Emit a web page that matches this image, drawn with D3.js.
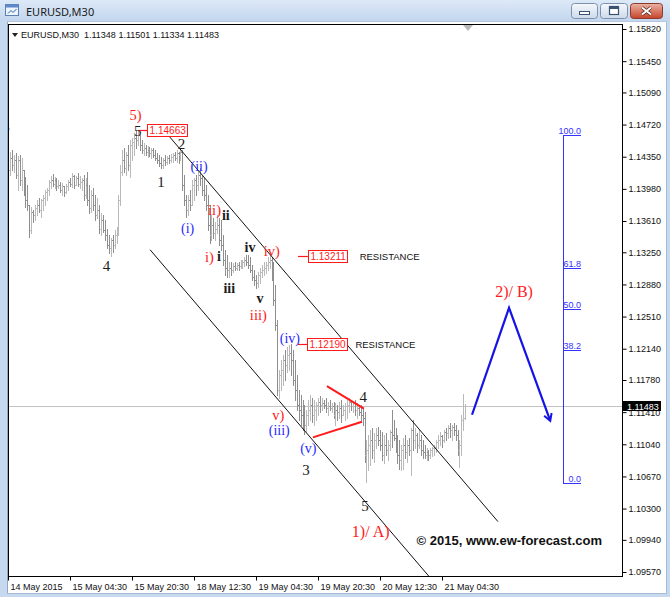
<!DOCTYPE html>
<html><head><meta charset="utf-8">
<script src="https://cdn.jsdelivr.net/npm/d3@7/dist/d3.min.js"></script>
<style>
html,body{margin:0;padding:0;background:#c6d9ef;overflow:hidden}
svg{display:block;font-family:"Liberation Sans",Arial,sans-serif}
</style></head><body>
<svg id="chart" width="670" height="597"></svg>
<script>
// ---------------- DATA ----------------
const symbol = "EURUSD,M30";
const timeTickBars = [0, 32, 64, 96, 128, 160, 192, 224];
const timeTickLabels = ["14 May 2015","15 May 04:30","15 May 20:30","18 May 12:30","19 May 04:30","19 May 20:30","20 May 12:30","21 May 04:30"];
const priceTicks = [1.15820,1.15450,1.15090,1.14720,1.14350,1.13980,1.13610,1.13250,1.12880,1.12510,1.12140,1.11780,1.11410,1.11040,1.10670,1.10300,1.09940,1.09570];

const highs = [1.1431,1.1440,1.1443,1.1437,1.1439,1.1436,1.1437,1.1433,1.1420,1.1412,
1.1402,1.1379,1.1377,1.1374,1.1379,1.1385,1.1388,1.1386,1.1391,1.1397,
1.1399,1.1408,1.1413,1.1415,1.1412,1.1411,1.1408,1.1406,1.1405,1.1401,
1.1404,1.1408,1.1411,1.1416,1.1414,1.1413,1.1416,1.1413,1.1411,1.1414,
1.1411,1.1417,1.1402,1.1397,1.1399,1.1391,1.1388,1.1379,1.1370,1.1368,
1.1362,1.1352,1.1345,1.1341,1.1345,1.1351,1.1354,1.1391,1.1425,1.1443,
1.1445,1.1440,1.1449,1.1454,1.1457,1.1462,1.1466,1.14663,1.1460,1.1454,
1.1451,1.1449,1.1447,1.1446,1.1445,1.1445,1.1443,1.1439,1.1437,1.1435,
1.1433,1.1437,1.1436,1.1437,1.1438,1.1439,1.1440,1.1443,1.1440,1.1445,
1.1443,1.1414,1.1391,1.1391,1.1397,1.1408,1.1411,1.1414,1.1420,1.1422,
1.1414,1.1411,1.1402,1.1391,1.1379,1.1368,1.1364,1.1360,1.1368,1.1364,
1.1362,1.1345,1.1328,1.1322,1.1314,1.1314,1.1313,1.1314,1.1313,1.1314,
1.1316,1.1316,1.1319,1.1322,1.1322,1.1319,1.1310,1.1305,1.1299,1.1302,
1.1307,1.1310,1.1314,1.1314,1.1319,1.13211,1.1319,1.1314,1.1287,1.1247,
1.1190,1.1201,1.1207,1.1213,1.1216,1.1218,1.12190,1.1213,1.1201,1.1184,
1.1167,1.1161,1.1155,1.1149,1.1144,1.1155,1.1161,1.1157,1.1155,1.1153,
1.1157,1.1160,1.1157,1.1155,1.1157,1.1153,1.1155,1.1152,1.1153,1.1151,
1.1149,1.1153,1.1155,1.1149,1.1152,1.1155,1.1157,1.1155,1.1153,1.1155,
1.1152,1.1149,1.1149,1.1146,1.1141,1.1109,1.1115,1.1121,1.1123,1.1117,
1.1123,1.1124,1.1121,1.1118,1.1115,1.1117,1.1109,1.1121,1.1144,1.1132,
1.1123,1.1115,1.1109,1.1103,1.1111,1.1115,1.1109,1.1111,1.1123,1.1132,
1.1123,1.1117,1.1121,1.1115,1.1109,1.1103,1.1100,1.1097,1.1100,1.1101,
1.1103,1.1109,1.1115,1.1118,1.1115,1.1121,1.1123,1.1126,1.1128,1.1126,
1.1129,1.1126,1.1121,1.1109,1.1138,1.1162,1.11501];

const lows = [1.1405,1.1414,1.1420,1.1417,1.1410,1.1397,1.1402,1.1397,1.1391,1.1377,
1.1374,1.1343,1.1347,1.1360,1.1362,1.1368,1.1371,1.1366,1.1374,1.1379,
1.1385,1.1391,1.1399,1.1401,1.1399,1.1397,1.1399,1.1394,1.1391,1.1390,
1.1393,1.1397,1.1401,1.1400,1.1399,1.1402,1.1401,1.1399,1.1397,1.1385,
1.1388,1.1379,1.1370,1.1371,1.1374,1.1362,1.1364,1.1347,1.1345,1.1348,
1.1339,1.1330,1.1324,1.1321,1.1325,1.1330,1.1336,1.1345,1.1379,1.1414,
1.1417,1.1414,1.1420,1.1412,1.1431,1.1437,1.1445,1.1449,1.1443,1.1439,
1.1437,1.1437,1.1435,1.1436,1.1433,1.1435,1.1431,1.1428,1.1424,1.1422,
1.1422,1.1425,1.1427,1.1428,1.1429,1.1429,1.1431,1.1429,1.1428,1.1431,
1.1397,1.1379,1.1366,1.1368,1.1374,1.1379,1.1385,1.1391,1.1397,1.1402,
1.1391,1.1385,1.1374,1.1351,1.1336,1.1339,1.1341,1.1339,1.1347,1.1333,
1.1328,1.1310,1.1299,1.1297,1.1296,1.1299,1.1302,1.1305,1.1305,1.1305,
1.1307,1.1307,1.1309,1.1310,1.1307,1.1302,1.1293,1.1287,1.1284,1.1285,
1.1290,1.1296,1.1299,1.1301,1.1305,1.1307,1.1293,1.1264,1.1236,1.1161,
1.1157,1.1167,1.1172,1.1178,1.1187,1.1190,1.1184,1.1172,1.1155,1.1144,
1.1132,1.1126,1.1121,1.1116,1.1118,1.1126,1.1132,1.1130,1.1126,1.1132,
1.1138,1.1141,1.1144,1.1146,1.1141,1.1138,1.1144,1.1141,1.1134,1.1126,
1.1132,1.1134,1.1130,1.1138,1.1132,1.1134,1.1141,1.1144,1.1141,1.1138,
1.1134,1.1138,1.1132,1.1126,1.1084,1.1061,1.1074,1.1080,1.1088,1.1084,
1.1100,1.1103,1.1097,1.1086,1.1083,1.1092,1.1086,1.1097,1.1101,1.1109,
1.1095,1.1083,1.1076,1.1074,1.1076,1.1088,1.1084,1.1092,1.1069,1.1097,
1.1100,1.1095,1.1100,1.1092,1.1088,1.1088,1.1086,1.1086,1.1088,1.1090,
1.1092,1.1095,1.1100,1.1103,1.1101,1.1107,1.1109,1.1111,1.1112,1.1109,
1.1115,1.1109,1.1092,1.1078,1.1092,1.1121,1.11334];

const closes = [1.1420,1.1433,1.1425,1.1431,1.1414,1.1431,1.1408,1.1420,1.1397,1.1385,
1.1379,1.1351,1.1371,1.1368,1.1376,1.1379,1.1374,1.1385,1.1388,1.1394,
1.1397,1.1406,1.1408,1.1404,1.1408,1.1401,1.1402,1.1397,1.1401,1.1394,
1.1401,1.1406,1.1404,1.1413,1.1402,1.1411,1.1404,1.1406,1.1408,1.1391,
1.1402,1.1385,1.1376,1.1391,1.1379,1.1368,1.1374,1.1352,1.1362,1.1351,
1.1345,1.1333,1.1330,1.1339,1.1333,1.1345,1.1351,1.1385,1.1417,1.1431,
1.1422,1.1437,1.1425,1.1449,1.1452,1.1457,1.1454,1.1460,1.1449,1.1443,
1.1445,1.1440,1.1443,1.1439,1.1443,1.1437,1.1433,1.1431,1.1428,1.1425,
1.1431,1.1429,1.1433,1.1431,1.1435,1.1437,1.1433,1.1439,1.1437,1.1440,
1.1402,1.1385,1.1374,1.1385,1.1379,1.1402,1.1408,1.1402,1.1414,1.1411,
1.1397,1.1391,1.1379,1.1356,1.1345,1.1356,1.1347,1.1352,1.1356,1.1339,
1.1333,1.1316,1.1307,1.1305,1.1307,1.1305,1.1309,1.1307,1.1310,1.1309,
1.1313,1.1314,1.1316,1.1314,1.1310,1.1305,1.1296,1.1293,1.1290,1.1299,
1.1302,1.1305,1.1307,1.1310,1.1314,1.1316,1.1299,1.1270,1.1241,1.1167,
1.1184,1.1190,1.1201,1.1195,1.1207,1.1209,1.1201,1.1178,1.1167,1.1149,
1.1144,1.1138,1.1132,1.1126,1.1138,1.1144,1.1149,1.1138,1.1144,1.1149,
1.1153,1.1149,1.1152,1.1149,1.1146,1.1148,1.1146,1.1148,1.1138,1.1144,
1.1141,1.1146,1.1138,1.1144,1.1148,1.1149,1.1153,1.1148,1.1151,1.1144,
1.1146,1.1141,1.1138,1.1134,1.1092,1.1097,1.1103,1.1109,1.1097,1.1109,
1.1115,1.1109,1.1103,1.1092,1.1103,1.1097,1.1103,1.1118,1.1115,1.1111,
1.1097,1.1092,1.1086,1.1097,1.1103,1.1095,1.1103,1.1097,1.1121,1.1109,
1.1115,1.1103,1.1109,1.1097,1.1095,1.1092,1.1095,1.1092,1.1097,1.1100,
1.1101,1.1107,1.1109,1.1114,1.1109,1.1118,1.1117,1.1123,1.1121,1.1124,
1.1121,1.1115,1.1097,1.1103,1.1132,1.11348,1.11483];

const opens = [1.1408,1.1420,1.1433,1.1425,1.1431,1.1414,1.1431,1.1408,1.1420,1.1397,
1.1385,1.1379,1.1351,1.1371,1.1368,1.1376,1.1379,1.1374,1.1385,1.1388,
1.1394,1.1397,1.1406,1.1408,1.1404,1.1408,1.1401,1.1402,1.1397,1.1401,
1.1394,1.1401,1.1406,1.1404,1.1413,1.1402,1.1411,1.1404,1.1406,1.1408,
1.1391,1.1402,1.1385,1.1376,1.1391,1.1379,1.1368,1.1374,1.1352,1.1362,
1.1351,1.1345,1.1333,1.1330,1.1339,1.1333,1.1345,1.1351,1.1385,1.1417,
1.1431,1.1422,1.1437,1.1425,1.1449,1.1452,1.1457,1.1454,1.1460,1.1449,
1.1443,1.1445,1.1440,1.1443,1.1439,1.1443,1.1437,1.1433,1.1431,1.1428,
1.1425,1.1431,1.1429,1.1433,1.1431,1.1435,1.1437,1.1433,1.1439,1.1437,
1.1440,1.1402,1.1385,1.1374,1.1385,1.1379,1.1402,1.1408,1.1402,1.1414,
1.1411,1.1397,1.1391,1.1379,1.1356,1.1345,1.1356,1.1347,1.1352,1.1356,
1.1339,1.1333,1.1316,1.1307,1.1305,1.1307,1.1305,1.1309,1.1307,1.1310,
1.1309,1.1313,1.1314,1.1316,1.1314,1.1310,1.1305,1.1296,1.1293,1.1290,
1.1299,1.1302,1.1305,1.1307,1.1310,1.1314,1.1316,1.1299,1.1270,1.1241,
1.1167,1.1184,1.1190,1.1201,1.1195,1.1207,1.1209,1.1201,1.1178,1.1167,
1.1149,1.1144,1.1138,1.1132,1.1126,1.1138,1.1144,1.1149,1.1138,1.1144,
1.1149,1.1153,1.1149,1.1152,1.1149,1.1146,1.1148,1.1146,1.1148,1.1138,
1.1144,1.1141,1.1146,1.1138,1.1144,1.1148,1.1149,1.1153,1.1148,1.1151,
1.1144,1.1146,1.1141,1.1138,1.1134,1.1092,1.1097,1.1103,1.1109,1.1097,
1.1109,1.1115,1.1109,1.1103,1.1092,1.1103,1.1097,1.1103,1.1118,1.1115,
1.1111,1.1097,1.1092,1.1086,1.1097,1.1103,1.1095,1.1103,1.1097,1.1121,
1.1109,1.1115,1.1103,1.1109,1.1097,1.1095,1.1092,1.1095,1.1092,1.1097,
1.1100,1.1101,1.1107,1.1109,1.1114,1.1109,1.1118,1.1117,1.1123,1.1121,
1.1124,1.1121,1.1115,1.1097,1.1103,1.1132,1.11348];

// annotations (bar index, price)
const waveText   = ["3","5)","5","1","2","4","(ii)","(i)","ii)","ii","i)","i","iii","iv","v","iii)","iv)","(iv)","v)","(iii)","(v)","3","4","5","1)/ A)","2)/ B)"];
const waveBar    = [-1,65.8,67,79,89.6,50.9,98.6,92.7,106.6,112.4,103.9,108.9,114.2,124.9,130.1,129.2,136.1,145.5,139.5,140,155,153.8,183.4,184.3,187.2,261.2];
const wavePrice  = [1.1464,1.1477,1.1459,1.1400,1.1444,1.1303,1.1418,1.1347,1.1368,1.1362,1.1314,1.1315,1.1278,1.1325,1.1267,1.1247,1.1321,1.1221,1.1132,1.1115,1.1094,1.1069,1.1153,1.1027,1.0997,1.1273];
const waveDegree = ["int","minor","int","int","int","int","minute","minute","minor","minuette","minor","minuette","minuette","minuette","minuette","minor","minor","minute","minor","minute","minute","int","int","int","major","major"];

const markPrice = [1.14663, 1.13211, 1.12190];
const markBar0  = [67.2, 149.7, 149.7];
const markBar1  = [71.8, 154.8, 154.3];
const markNote  = ["", "RESISTANCE", "RESISTANCE"];
const markNoteBar = [0, 181.5, 179.3];

const channelBar0 = [82.6, 73.3], channelP0 = [1.1460, 1.1328];
const channelBar1 = [252.9, 218.8], channelP1 = [1.1015, 1.0948];
const triBar0 = [164.6, 157.4], triP0 = [1.1171, 1.1112];
const triBar1 = [183.7, 182.7], triP1 = [1.1145, 1.1130];
const arrowBar = [239.5, 258.6, 279.7], arrowPrice = [1.1138, 1.1261, 1.1132];
const fibLevels = [0, 38.2, 50, 61.8, 100];
const fibLow = 1.1060, fibHigh = 1.1460, fibBar0 = 286.5, fibBar1 = 295.7;
const copyright = "\u00A9 2015, www.ew-forecast.com";

// ---------------- DRAW ----------------
const svg = d3.select("#chart");
const W = 670, H = 597;
const P = {l: 8, t: 24, r: 622, b: 576};
const x = d3.scaleLinear().domain([timeTickBars[0], timeTickBars[timeTickBars.length-1]]).range([8, 442]);
const y = d3.scaleLinear().domain([priceTicks[priceTicks.length-1], priceTicks[0]]).range([572, 29]);
const N = closes.length;
const last = N - 1;
const SANS = "Liberation Sans, Arial, sans-serif";
const SERIF = "Liberation Serif, Times New Roman, serif";

const defs = svg.append("defs");
function grad(id, c1, c2) {
  const g = defs.append("linearGradient").attr("id", id).attr("x1", 0).attr("y1", 0).attr("x2", 0).attr("y2", 1);
  g.append("stop").attr("offset", "0%").attr("stop-color", c1);
  g.append("stop").attr("offset", "100%").attr("stop-color", c2);
}
grad("tb", "#dde9f7", "#c3d6ee");
grad("btn", "#f5f8fc", "#cddaea");
grad("cls", "#ecb3a3", "#c6432a");
defs.append("clipPath").attr("id", "clip").append("rect")
  .attr("x", P.l).attr("y", P.t).attr("width", P.r - P.l).attr("height", P.b - P.t);
defs.append("marker").attr("id", "ah").attr("viewBox", "0 0 10 10").attr("refX", 7).attr("refY", 5)
  .attr("markerWidth", 4.5).attr("markerHeight", 4.5).attr("orient", "auto")
  .append("path").attr("d", "M1,1L8,5L1,9").attr("fill", "none").attr("stroke", "#1414e6").attr("stroke-width", 2);

// window chrome
svg.append("rect").attr("width", W).attr("height", H).attr("fill", "#c6d9ef");
svg.append("rect").attr("width", W).attr("height", 21).attr("fill", "url(#tb)");
svg.append("rect").attr("x", 8).attr("y", 21).attr("width", 658).attr("height", 573).attr("fill", "#ffffff");
svg.append("line").attr("x1", 7.5).attr("x2", 7.5).attr("y1", 21).attr("y2", 594).attr("stroke", "#8fa8c7");
svg.append("line").attr("x1", 666.5).attr("x2", 666.5).attr("y1", 21).attr("y2", 594).attr("stroke", "#a7bcd6");
svg.append("line").attr("x1", 7).attr("x2", 667).attr("y1", 593.5).attr("y2", 593.5).attr("stroke", "#a7bcd6");
svg.append("line").attr("x1", 7).attr("x2", 667).attr("y1", 21.5).attr("y2", 21.5).attr("stroke", "#b5c7de");

const ic = svg.append("g");
ic.append("rect").attr("x", 5.5).attr("y", 4.5).attr("width", 13).attr("height", 11).attr("fill", "#eef4fb").attr("stroke", "#5b80b6");
ic.append("rect").attr("x", 5.5).attr("y", 4.5).attr("width", 13).attr("height", 3).attr("fill", "#5d88c9");
ic.append("path").attr("d", "M8,13.5L11,10.5L13,12.5L16.5,9").attr("stroke", "#2e63b2").attr("fill", "none");
svg.append("text").attr("x", 26).attr("y", 16).style("font-family", "Noto Sans, sans-serif").attr("font-size", 11)
  .attr("fill", "#1b1b1b").text(symbol);

// buttons
svg.append("rect").attr("x", 571.5).attr("y", 3.5).attr("width", 26).attr("height", 15).attr("rx", 3)
  .attr("fill", "url(#btn)").attr("stroke", "#7d91ad");
svg.append("rect").attr("x", 579.5).attr("y", 11.5).attr("width", 10).attr("height", 3).attr("fill", "#fff").attr("stroke", "#3b5172");
svg.append("rect").attr("x", 600.5).attr("y", 3.5).attr("width", 27).attr("height", 15).attr("rx", 3)
  .attr("fill", "url(#btn)").attr("stroke", "#7d91ad");
svg.append("rect").attr("x", 609.5).attr("y", 6.5).attr("width", 9).attr("height", 8).attr("fill", "#fff").attr("stroke", "#3b5172").attr("stroke-width", 1.2);
svg.append("rect").attr("x", 610).attr("y", 7).attr("width", 8).attr("height", 2).attr("fill", "#3b5172");
svg.append("rect").attr("x", 630.5).attr("y", 3.5).attr("width", 32).attr("height", 15).attr("rx", 3)
  .attr("fill", "url(#cls)").attr("stroke", "#8b3b2c");
svg.append("path").attr("d", "M642,7.5L651,14.5M651,7.5L642,14.5").attr("stroke", "#3a1a14").attr("stroke-width", 3.2);
svg.append("path").attr("d", "M642,7.5L651,14.5M651,7.5L642,14.5").attr("stroke", "#ffffff").attr("stroke-width", 2);

// plot
const plot = svg.append("g").attr("clip-path", "url(#clip)");

// current price line
plot.append("line").attr("x1", P.l).attr("x2", P.r)
  .attr("y1", Math.round(y(closes[last])) + 0.5).attr("y2", Math.round(y(closes[last])) + 0.5)
  .attr("stroke", "#c3c3c3");

// OHLC bars
plot.append("g").attr("shape-rendering", "crispEdges")
  .selectAll("path").data(d3.range(N)).join("path")
  .attr("fill", "none")
  .attr("stroke", i => closes[i] >= opens[i] ? "#b9b9b9" : "#8e8e8e")
  .attr("d", i => {
    const col = Math.round(x(i));
    const xc = col + 0.5;
    const yh = Math.round(y(highs[i]));
    const yl = Math.max(Math.round(y(lows[i])), yh + 1) + 1;
    const yo = Math.round(y(opens[i])) + 0.5;
    const yc = Math.round(y(closes[i])) + 0.5;
    return `M${xc},${yh}V${yl}M${col - 1},${yo}H${col}M${col + 1},${yc}H${col + 2}`;
  });

// channel lines
plot.append("g").selectAll("line").data(d3.range(channelBar0.length)).join("line")
  .attr("x1", i => x(channelBar0[i])).attr("y1", i => y(channelP0[i]))
  .attr("x2", i => x(channelBar1[i])).attr("y2", i => y(channelP1[i]))
  .attr("stroke", "#111").attr("stroke-width", 1);

// triangle
plot.append("g").selectAll("line").data(d3.range(triBar0.length)).join("line")
  .attr("x1", i => x(triBar0[i])).attr("y1", i => y(triP0[i]))
  .attr("x2", i => x(triBar1[i])).attr("y2", i => y(triP1[i]))
  .attr("stroke", "#ff1a1a").attr("stroke-width", 2);

// projected path arrow
plot.append("path")
  .attr("d", d3.line().x((d, i) => x(arrowBar[i])).y((d, i) => y(arrowPrice[i]))(arrowBar))
  .attr("fill", "none").attr("stroke", "#1414e6").attr("stroke-width", 2.2)
  .attr("marker-end", "url(#ah)");

// fibonacci
const fy = lv => y(fibLow + (fibHigh - fibLow) * lv / 100);
const fib = plot.append("g").attr("shape-rendering", "crispEdges");
fib.append("line").attr("x1", Math.round(x(fibBar0)) + 0.5).attr("x2", Math.round(x(fibBar0)) + 0.5)
  .attr("y1", fy(100)).attr("y2", fy(0)).attr("stroke", "#3333ff");
fib.selectAll("line.lv").data(fibLevels).join("line").attr("class", "lv")
  .attr("x1", Math.round(x(fibBar0))).attr("x2", Math.round(x(fibBar1)))
  .attr("y1", d => Math.round(fy(d)) + 0.5).attr("y2", d => Math.round(fy(d)) + 0.5)
  .attr("stroke", "#3333ff");
fib.selectAll("text").data(fibLevels).join("text")
  .attr("x", x(fibBar1)).attr("y", d => Math.round(fy(d)) - 1)
  .attr("text-anchor", "end").attr("font-size", 9).attr("fill", "#3333ff")
  .text(d => d.toFixed(1));

// price marks
const mk = plot.append("g");
markPrice.forEach((p, i) => {
  const yy = Math.round(y(p)) + 0.5;
  mk.append("line").attr("x1", x(markBar0[i])).attr("x2", x(markBar1[i])).attr("y1", yy).attr("y2", yy)
    .attr("stroke", "#ff1a1a").attr("stroke-width", 1.2);
  const t = mk.append("text").attr("x", x(markBar1[i]) + 2.5).attr("y", yy + 3.5)
    .attr("font-size", 10).attr("fill", "#ff1a1a").text(p.toFixed(5));
  const w = t.node().getComputedTextLength();
  mk.insert("rect", "text").attr("x", Math.round(x(markBar1[i])) + 0.5).attr("y", yy - 6)
    .attr("width", Math.round(w) + 4).attr("height", 12).attr("fill", "#fff")
    .attr("stroke", "#ff1a1a").attr("stroke-width", 1);
  if (markNote[i]) {
    mk.append("text").attr("x", x(markNoteBar[i])).attr("y", yy + 3.5)
      .attr("font-size", 9.5).attr("fill", "#111").text(markNote[i]);
  }
});

// wave labels
const degStyle = {
  int:      {fill: "#1c1c1c", size: 15,   weight: "normal"},
  minor:    {fill: "#ff1a1a", size: 14.5, weight: "normal"},
  minute:   {fill: "#2a2aff", size: 14,   weight: "normal"},
  minuette: {fill: "#1c1c1c", size: 14,   weight: "bold"},
  major:    {fill: "#ff1a1a", size: 16,   weight: "normal"}
};
plot.append("g").selectAll("text").data(d3.range(waveText.length)).join("text")
  .attr("x", i => x(waveBar[i])).attr("y", i => y(wavePrice[i]))
  .attr("text-anchor", "middle")
  .style("font-family", SERIF)
  .attr("font-size", i => degStyle[waveDegree[i]].size)
  .attr("font-weight", i => degStyle[waveDegree[i]].weight)
  .attr("fill", i => degStyle[waveDegree[i]].fill)
  .text(i => waveText[i]);

// header
const hdr = svg.append("g");
hdr.append("path").attr("d", "M12,33L18,33L15,37Z").attr("fill", "#222");
hdr.append("text").attr("x", 21).attr("y", 38).attr("font-size", 9).attr("fill", "#111")
  .style("white-space", "pre")
  .text(`${symbol}  ${opens[last].toFixed(5)} ${highs[last].toFixed(5)} ${lows[last].toFixed(5)} ${closes[last].toFixed(5)}`);
// shift marker
const sx = Math.round(x(last + 1.5));
svg.append("path").attr("d", `M${sx - 5},25L${sx + 5},25L${sx},31Z`).attr("fill", "#b9b9b9");

// copyright
svg.append("text").attr("x", P.r - 20).attr("y", 545).attr("text-anchor", "end")
  .attr("font-size", 13).attr("font-weight", "bold").attr("fill", "#111").text(copyright);

// frame
svg.append("rect").attr("x", P.l + 0.5).attr("y", P.t + 0.5).attr("width", P.r - P.l).attr("height", P.b - P.t)
  .attr("fill", "none").attr("stroke", "#000").attr("shape-rendering", "crispEdges");

// axes
const ya = svg.append("g").attr("transform", `translate(${P.r + 0.5},0)`)
  .call(d3.axisRight(y).tickValues(priceTicks).tickFormat(d3.format(".5f")).tickSize(4).tickPadding(2));
ya.select(".domain").remove();
ya.attr("font-family", null).attr("font-size", null);
ya.selectAll("text").attr("font-size", 9).attr("fill", "#111").style("font-family", SANS);
ya.selectAll("line").attr("stroke", "#000");

const xa = svg.append("g").attr("transform", `translate(0,${P.b + 0.5})`)
  .call(d3.axisBottom(x).tickValues(timeTickBars).tickFormat((d, i) => timeTickLabels[i]).tickSize(4).tickPadding(3));
xa.select(".domain").remove();
xa.attr("font-family", null).attr("font-size", null);
xa.selectAll("text").attr("font-size", 9).attr("fill", "#111").attr("text-anchor", "start").attr("x", 2)
  .style("font-family", SANS);
xa.selectAll("line").attr("stroke", "#000");

// current price box
const cy = y(closes[last]);
svg.append("rect").attr("x", P.r + 1).attr("y", Math.round(cy) - 5).attr("width", 38).attr("height", 10).attr("fill", "#000");
svg.append("text").attr("x", P.r + 5).attr("y", Math.round(cy) + 3.5).attr("font-size", 9).attr("fill", "#fff")
  .text(closes[last].toFixed(5));
</script>
</body></html>
